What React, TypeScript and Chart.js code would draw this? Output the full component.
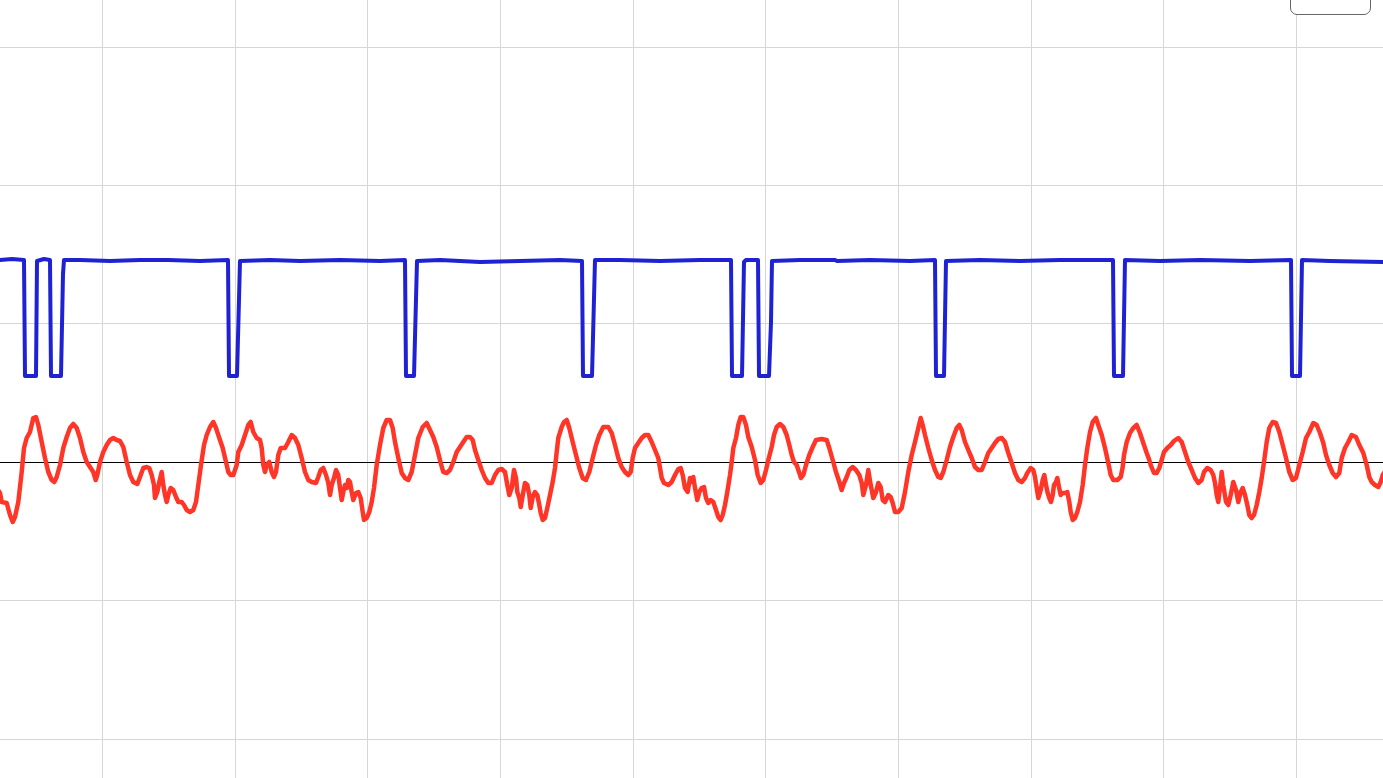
import React, { useEffect, useRef } from "react";
import { Chart, registerables } from "chart.js";

Chart.register(...registerables);

// Oscilloscope-style capture: x = sample index, y = ADC counts relative to zero
const xGridTicks = [102, 235, 367, 500, 633, 765, 898, 1031, 1163, 1296];
const yGridTicks = [-277, -138, 0, 139, 277, 415];

const blueSample = [
  -31, 0, 12, 24, 25, 36, 37, 44, 50, 51, 61, 63, 64, 80, 110, 140, 166, 168, 200,
  228, 229, 237, 240, 270, 300, 340, 380, 405, 406, 414, 417, 440, 480, 520, 560,
  582, 583, 592, 595, 620, 660, 700, 731, 732, 742, 744, 746, 748, 758, 759, 769,
  771, 772, 800, 835, 837, 870, 910, 935, 936, 944, 946, 980, 1020, 1060, 1100,
  1113, 1114, 1123, 1125, 1160, 1200, 1250, 1291, 1292, 1300, 1302, 1330, 1383, 1430,
];
const blueValue = [
  202, 202, 203, 202, 86, 86, 201, 203, 202, 86, 86, 188, 202, 202, 201, 202, 202, 202, 201,
  202, 86, 86, 201, 202, 201, 202, 201, 202, 86, 86, 201, 202, 200, 201, 202,
  201, 86, 86, 202, 202, 201, 202, 202, 86, 86, 200, 202, 202, 202, 86, 86,
  140, 201, 202, 202, 201, 202, 201, 202, 86, 86, 201, 202, 201, 202, 202,
  202, 86, 86, 202, 201, 202, 201, 202, 86, 86, 202, 201, 200, 200,
];

const redSample = [
  -31, -6, 0, 1.7, 6.7, 10, 12.7, 15, 18.3, 21.7, 24, 26.7, 30, 33.3, 36, 38.3, 41.7, 45, 48.3, 51.7,
  54.3, 56.7, 60, 63.3, 66.7, 70, 73.3, 76.7, 80, 83.3, 86.7, 90, 93.3, 95.7, 97.3, 100,
  103.3, 106.7, 110, 113.3, 116.7, 120, 123.3, 126.7, 130, 133.3, 137.3, 140, 143.3, 146.7,
  149.3, 151.7, 154, 155, 157.3, 159.3, 161.7, 163.3, 165, 166.7, 168.3, 170.7, 173.3, 176,
  178.3, 181.7, 184, 186.7, 190, 193.3, 196, 198.3, 201, 204, 206.7, 210, 213.3, 216, 219.3,
  222.7, 226, 228.3, 230.7,
  233.3, 236.7, 238.3, 241.7, 245, 248.3, 250.7, 253.3, 256.7, 260, 261.7, 263.3, 265, 266.7,
  269.3, 271.7, 274, 276, 278.3, 280.7, 285, 288.3, 291.7, 295, 298.3, 301.7, 305, 308.3,
  311.7, 316, 318.3, 320.7, 323.3, 326, 328.3, 330, 331.7, 334, 336, 338.3, 340, 341.7, 343.3,
  345, 346.7, 348.3, 350, 351.7, 353.3, 356, 358.3, 360.7, 362.7, 364, 366.7, 369.3, 371.7,
  374, 376.7, 380, 383.3, 386.7, 390, 392.7, 395, 398.3, 401.7, 405, 408.3, 411.7, 415,
  418.3, 422.7, 426.7, 430, 433.3, 436.7, 440.7, 443.3, 446.7, 450, 453.3, 456.7, 460,
  463.3, 466.7, 470, 472.7, 475, 478.3, 481.7, 485, 488.3, 491.7, 495, 498.3, 501.7, 505,
  507.3, 509.3, 511.7, 514, 516, 517.3, 519.3, 520.7, 523.3, 525, 527.3, 529.3, 530.7, 532.7,
  535, 537.3, 539.3, 540.7, 542.7, 545, 547.3, 550, 552.7, 555, 556.7, 558.3, 561.7, 564,
  566.7, 569.3, 572.7, 576, 579.3, 582.7, 586, 589.3, 592.7, 596, 599.3, 603.3, 608.3, 611.7,
  615, 618.3, 621.7, 625, 628.3, 630.7, 632.7, 635, 638.3, 641.7, 645, 648.3, 651.7, 655,
  658.3, 660, 661.7, 664, 668.3, 671.7, 675, 678.3, 680.7, 682.7, 685, 687.7, 690,
  691.7, 693.3, 695, 697.3, 699.3, 701.7, 704, 706, 708.3, 710.7, 713.3, 716, 718.3, 720.7,
  722.7, 725, 727.3, 730, 731.7, 733.3, 736, 738.3, 740.7, 743.3, 746, 748.3, 751.7, 755,
  757.7, 760.7, 763.3, 766, 768.3, 771.7, 774, 776.7, 780, 783.3, 786.7, 789.3, 791.7, 794,
  796.7, 799, 801, 803.3, 806, 809.3, 812.7, 816, 821.7, 826.7, 829.3, 832.7, 836, 839.3,
  841.7, 844, 846.7, 849.3, 852.7, 856, 859.3, 861.7, 863.3, 866, 868.3, 870.7, 873.3, 876,
  878.3, 880.7, 882.7, 885, 888.3, 890.7, 892.7, 895, 898.3, 901.7, 905, 908.3, 911.7, 915,
  918.3, 920.7,
  922.7, 925, 928.3, 931.7, 935, 938.3, 940.7, 943.3, 946.7, 950, 953.3, 956.7, 959.3, 961.7,
  965, 968.3, 971.7, 975, 978.3, 981.7, 985, 988.3, 991.7, 995, 998.3, 1001.7, 1005, 1008.3,
  1011.7, 1015, 1018.3, 1021.7, 1025, 1027.3, 1030.7, 1033.3, 1035, 1036.7, 1038.3, 1040.7,
  1042.7, 1044.3, 1046, 1047.7, 1049.3, 1051, 1052.7, 1054, 1056, 1057.3, 1059, 1060.7, 1062.7,
  1065, 1067.3, 1069.3, 1070.7, 1072.7, 1075, 1077.3, 1080, 1082.7, 1085, 1087.3, 1090, 1092.7,
  1096, 1098.3, 1101.7, 1105, 1108.3, 1110.7, 1113.3, 1117.3, 1120.7, 1122.7, 1124, 1126.7,
  1130, 1133.3, 1136.7, 1140, 1143.3, 1146.7, 1149.3, 1150.7,
  1154, 1156.7, 1159.3, 1161.7, 1164, 1167.3, 1170.7, 1174, 1178.3, 1181.7, 1185, 1188.3,
  1191.7, 1195, 1198.3, 1201.7, 1204, 1207.3, 1210.7, 1213.3, 1215, 1216.7, 1218.3, 1220,
  1221.7, 1223.3, 1226, 1228.3, 1230.7, 1233.3, 1236, 1238.3, 1240.7, 1242.7, 1245, 1247.3,
  1249.3, 1251.7, 1254, 1256.7, 1259.3, 1261.7, 1264, 1266.7, 1269.3, 1272.7, 1276, 1279.3,
  1282.7, 1286, 1289.3, 1292.7, 1296, 1299.3, 1302.7, 1306, 1309.3, 1313.3, 1316.7, 1320,
  1323.3, 1326, 1329.3, 1332.7, 1336, 1339.3, 1341.7, 1345, 1348.3, 1351.7, 1356, 1359.3,
  1363.3, 1366.7, 1369.3, 1371.7, 1375, 1378.3, 1380.7, 1382.7, 1386, 1430,
];
const redValue = [
  -20, -22, -31, -40, -41, -53, -60, -55, -40, -10, 14, 24, 30, 44, 45, 37, 20, 4, -10, -18,
  -20, -15, -3, 14, 25, 34, 38, 34, 24, 10, 0, -5, -10, -18, -13, 0,
  10, 17, 22, 24, 22, 21, 15, 0, -13, -20, -22, -15, -6, -5,
  -6, -13, -23, -36, -30, -20, -10, -23, -33, -40, -33, -26, -28, -35,
  -40, -40, -43, -48, -50, -48, -40, -23, -3, 17, 27, 35, 40, 34, 24,
  14, 0, -10, -13,
  -13, -3, 10, 17, 27, 37, 40, 30, 24, 22, 14, -3, -10, -3,
  0, -10, -15, -10, 7, 14, 14, 20, 27, 24, 17, 4, -10, -18,
  -20, -21, -15, -8, -6, -13, -21, -33, -23, -16, -8, -13, -26, -38, -30,
  -23, -26, -18, -20, -30, -38, -31, -30, -36, -50, -58, -56, -50, -40,
  -26, -3, 17, 34, 42, 42, 34, 20, 4, -11, -16, -18, -10, 7,
  24, 35, 39, 32, 25, 15, -1, -10, -11, -8, 0, 10, 15,
  20, 25, 25, 22, 12, 2, -8, -16, -21, -21, -13, -8, -7, -10,
  -23, -33, -26, -8, -16, -30, -36, -45, -30, -21, -23, -33, -46, -35,
  -30, -33, -43, -51, -58, -56, -46, -33, -20, -6, 10, 24, 35, 40,
  42, 34, 20, 7, -6, -16, -18, -10, 4, 17, 27, 35, 35, 29,
  17, 4, -5, -10, -13, -10, 4, 14, 19, 24, 27, 27, 20, 12,
  4, -6, -16, -21, -23, -20, -13, -7, -6, -13, -26, -30, -16,
  -20, -15, -26, -38, -30, -26, -25, -36, -41, -38, -40, -48, -55, -58,
  -53, -43, -30, -13, 0, 14, 24, 37, 45, 45, 37, 25, 15, 2,
  -13, -21, -18, -8, 2, 15, 27, 35, 38, 35, 27, 17, 7, 0,
  -3, -10, -16, -13, -3, 7, 15, 22, 23, 22, 14, 2, -10, -20,
  -28, -21, -15, -8, -5, -8, -13, -21, -33, -23, -8, -23, -36, -30,
  -21, -25, -38, -40, -33, -35, -41, -50, -50, -46, -30, -10, 7, 20,
  34, 44,
  37, 27, 14, 2, -8, -15, -16, -10, 2, 15, 25, 34, 37, 32,
  20, 12, 4, -5, -8, -8, 0, 9, 14, 19, 23, 24, 20, 9,
  -1, -11, -18, -20, -16, -11, -6, -8, -15, -26, -36, -28,
  -18, -13, -23, -31, -36, -40, -33, -23, -20, -16, -25, -33, -31,
  -31, -30, -40, -50, -58, -56, -50, -40, -23, -3, 14, 30, 40,
  44, 37, 27, 14, -1, -13, -18, -18, -15, -5, 7, 20,
  29, 34, 37, 29, 19, 9, 2, -3,
  -11, -11, -6, 2, 10, 14, 17, 21, 24, 20, 10, 0,
  -8, -16, -21, -18, -10, -6, -8, -13, -21, -33, -40, -26,
  -10, -23, -40, -43, -33, -20, -28, -40, -30, -26, -33, -43,
  -53, -56, -53, -43, -30, -16, 0, 20, 34, 40, 39, 30,
  17, 4, -10, -18, -16, -3, 10, 24, 30, 39, 37, 29,
  19, 7, -3, -11, -15, -11, 4, 14, 20, 27, 25, 17,
  9, -3, -15, -20, -23, -25, -20, -13, -8, -5,
];

const BLUE = "#1f22d2";
const RED = "#ff3527";
const GRID = "#d6d6d6";

const X_MIN = -31;
const X_MAX = 1429;
const Y_MIN = -416;
const Y_MAX = 554;

export default function App() {
  const ref = useRef<HTMLCanvasElement>(null);

  useEffect(() => {
    if (!ref.current) return;
    const chart = new Chart(ref.current, {
      type: "line",
      data: {
        datasets: [
          {
            label: "CH1",
            data: blueSample.map((x, i) => ({ x, y: blueValue[i] })),
            borderColor: BLUE,
            borderWidth: 4,
            borderJoinStyle: "round",
            pointRadius: 0,
            tension: 0,
            fill: false,
          },
          {
            label: "CH2",
            data: redSample.map((x, i) => ({ x, y: redValue[i] })),
            borderColor: RED,
            borderWidth: 4.5,
            borderJoinStyle: "round",
            pointRadius: 0,
            tension: 0,
            fill: false,
          },
        ],
      },
      options: {
        animation: false,
        responsive: false,
        events: [],
        layout: { padding: 0 },
        plugins: { legend: { display: false }, tooltip: { enabled: false } },
        scales: {
          x: {
            type: "linear",
            min: X_MIN,
            max: X_MAX,
            ticks: { display: false },
            border: { display: false },
            grid: { color: GRID, lineWidth: 1, drawTicks: false },
            afterBuildTicks: (s: any) => {
              s.ticks = xGridTicks.map((v) => ({ value: v }));
            },
          },
          y: {
            type: "linear",
            min: Y_MIN,
            max: Y_MAX,
            ticks: { display: false },
            border: { display: false },
            grid: {
              color: (c: any) => (c.tick && c.tick.value === 0 ? "#000000" : GRID),
              lineWidth: 1,
              drawTicks: false,
            },
            afterBuildTicks: (s: any) => {
              s.ticks = yGridTicks.map((v) => ({ value: v }));
            },
          },
        },
      },
    });
    return () => chart.destroy();
  }, []);

  return (
    <div style={{ position: "fixed", inset: 0, overflow: "hidden", background: "#fff" }}>
      <canvas
        ref={ref}
        width={X_MAX - X_MIN}
        height={Y_MAX - Y_MIN}
        style={{ position: "absolute", left: X_MIN, top: -92, width: X_MAX - X_MIN, height: Y_MAX - Y_MIN }}
      />
      <div
        style={{
          position: "absolute",
          left: 1290,
          top: -20,
          width: 81,
          height: 35,
          border: "1.5px solid #666",
          borderRadius: 7,
          background: "#fff",
          boxSizing: "border-box",
        }}
      />
    </div>
  );
}
